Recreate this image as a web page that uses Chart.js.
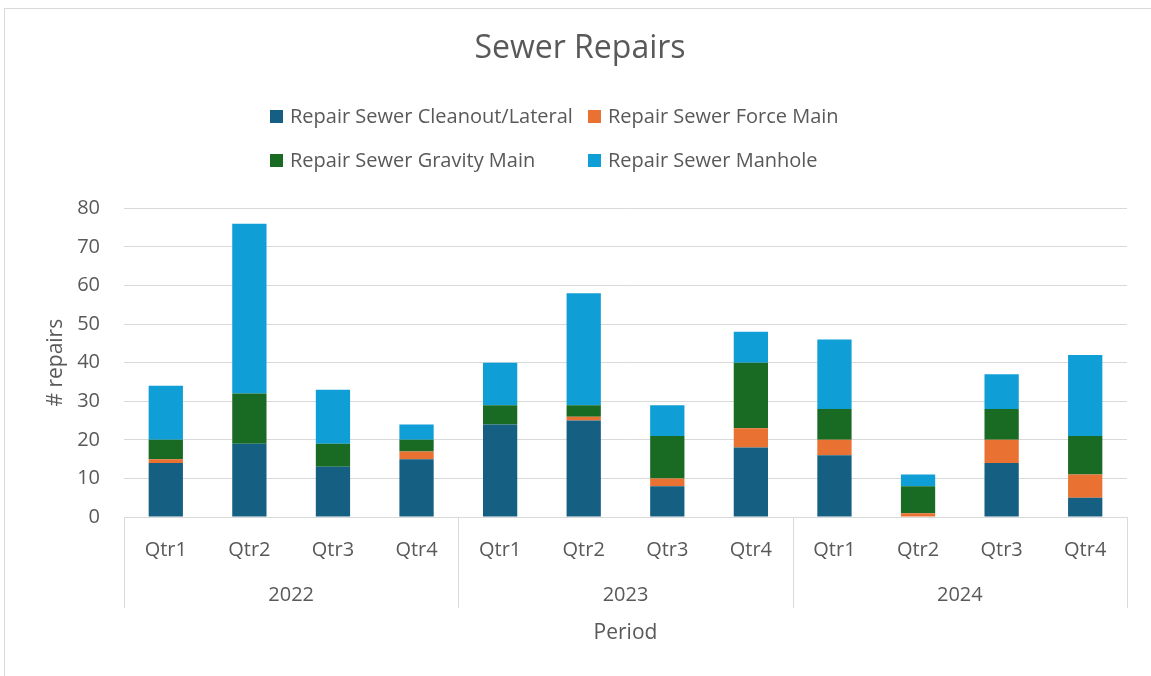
<!DOCTYPE html>
<html>
<head>
<meta charset="utf-8">
<script src="https://cdn.jsdelivr.net/npm/chart.js@4.4.1/dist/chart.umd.min.js"></script>
<style>
  html, body { margin: 0; padding: 0; background: #fff; }
  #wrap { position: relative; width: 1151px; height: 676px; }
  #frame { position: absolute; left: 4px; top: 8px; width: 1160px; height: 700px; border: 1px solid #d9d9d9; box-sizing: border-box; }
  canvas { position: absolute; left: 0; top: 0; }
</style>
</head>
<body>
<div id="wrap">
  <div id="frame"></div>
  <canvas id="chart" width="1151" height="676"></canvas>
</div>
<script>
// ===== DATA =====
const quarters = ['Qtr1', 'Qtr2', 'Qtr3', 'Qtr4', 'Qtr1', 'Qtr2', 'Qtr3', 'Qtr4', 'Qtr1', 'Qtr2', 'Qtr3', 'Qtr4'];
const years = ['2022', '2023', '2024'];
const cleanout = [14, 19, 13, 15, 24, 25, 8, 18, 16, 0, 14, 5];
const forceMain = [1, 0, 0, 2, 0, 1, 2, 5, 4, 1, 6, 6];
const gravityMain = [5, 13, 6, 3, 5, 3, 11, 17, 8, 7, 8, 10];
const manhole = [14, 44, 14, 4, 11, 29, 8, 8, 18, 3, 9, 21];
const yTicks = [0, 10, 20, 30, 40, 50, 60, 70, 80];

const FONT = "'Open Sans', sans-serif";
const TEXT = '#595959';
const LINE = '#d9d9d9';

// legend drawn as two columns, two rows (like the Excel one)
const legendPlugin = {
  id: 'gridLegend',
  afterDraw(chart) {
    const ctx = chart.ctx;
    const ds = chart.data.datasets;
    const cols = [270, 588];
    const rows = [116, 160];
    ctx.save();
    ctx.font = '20px ' + FONT;
    ctx.textBaseline = 'middle';
    ds.forEach((d, i) => {
      const x = cols[i % 2];
      const y = rows[Math.floor(i / 2)];
      ctx.fillStyle = d.backgroundColor;
      ctx.fillRect(x, y - 6, 13, 13);
      ctx.fillStyle = TEXT;
      ctx.fillText(d.label, x + 20, y + 1);
    });
    ctx.restore();
  }
};

// vertical separators of the two-level category axis
const groupLines = {
  id: 'groupLines',
  afterDraw(chart) {
    const x = chart.scales.x;
    const ctx = chart.ctx;
    const bottom = chart.chartArea.bottom;
    ctx.save();
    ctx.strokeStyle = LINE;
    ctx.lineWidth = 1;
    [-0.5, 3.5, 7.5, 11.5].forEach(v => {
      const px = Math.round(x.getPixelForValue(v)) + 0.5;
      ctx.beginPath();
      ctx.moveTo(px, bottom);
      ctx.lineTo(px, bottom + 91);
      ctx.stroke();
    });
    ctx.restore();
  }
};

new Chart(document.getElementById('chart'), {
  type: 'bar',
  data: {
    labels: quarters,
    datasets: [
      { label: 'Repair Sewer Cleanout/Lateral', data: cleanout, backgroundColor: '#156082' },
      { label: 'Repair Sewer Force Main', data: forceMain, backgroundColor: '#E97132' },
      { label: 'Repair Sewer Gravity Main', data: gravityMain, backgroundColor: '#196B24' },
      { label: 'Repair Sewer Manhole', data: manhole, backgroundColor: '#0F9ED5' }
    ]
  },
  options: {
    responsive: false,
    animation: false,
    barPercentage: 0.41,
    categoryPercentage: 1,
    layout: { padding: { left: 33, right: 24, top: 0, bottom: 0 } },
    plugins: {
      legend: { display: false },
      tooltip: { enabled: false },
      title: {
        display: true,
        text: 'Sewer Repairs',
        color: TEXT,
        font: { family: FONT, size: 32, weight: 'normal' },
        padding: { top: 30, bottom: 140 }
      }
    },
    scales: {
      x: {
        stacked: true,
        grid: { display: false },
        border: { color: LINE },
        ticks: { color: TEXT, font: { family: FONT, size: 20 }, padding: 13, maxRotation: 0, autoSkip: false },
        afterFit: s => { s.height = 60; }
      },
      x2: {
        type: 'category',
        labels: years,
        position: 'bottom',
        offset: true,
        grid: { display: false },
        border: { display: false },
        ticks: { color: TEXT, font: { family: FONT, size: 20 }, padding: -2 },
        title: { display: true, text: 'Period', color: TEXT, font: { family: FONT, size: 21 }, padding: { top: 0, bottom: 30 } },
        afterFit: s => { s.height = 99; }
      },
      y: {
        stacked: true,
        min: 0,
        max: 80,
        afterBuildTicks: s => { s.ticks = yTicks.map(v => ({ value: v })); },
        grid: { color: LINE, drawTicks: false },
        border: { display: false },
        ticks: { color: TEXT, font: { family: FONT, size: 20 }, padding: 24 },
        title: { display: true, text: '# repairs', color: TEXT, font: { family: FONT, size: 21 }, padding: { top: 10, bottom: 0 } },
        afterFit: s => { s.width = 91; }
      }
    }
  },
  plugins: [legendPlugin, groupLines]
});
</script>
</body>
</html>
